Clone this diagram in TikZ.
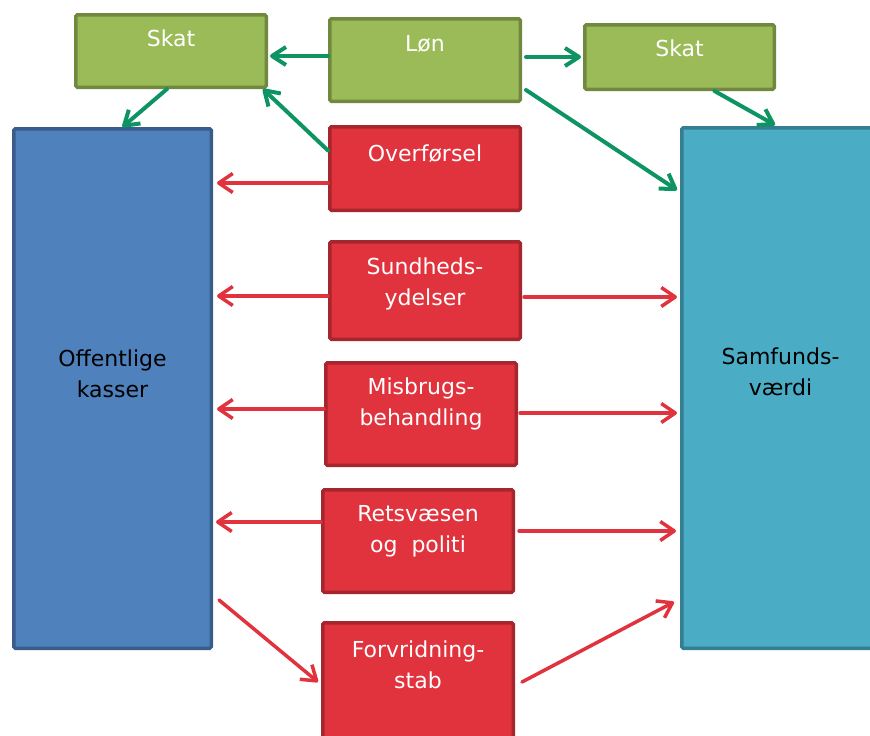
\documentclass[tikz,border=0pt]{standalone}
\usepackage{fontspec}
\setmainfont{DejaVu Sans}
\usetikzlibrary{arrows.meta, calc}
\definecolor{skatgreen}{RGB}{155,187,89}
\definecolor{skatborder}{RGB}{113,137,63}
\definecolor{kasseblue}{RGB}{79,129,189}
\definecolor{kasseborder}{RGB}{56,93,138}
\definecolor{vaerditeal}{RGB}{75,172,198}
\definecolor{vaerdiborder}{RGB}{53,125,145}
\definecolor{postred}{RGB}{225,51,61}
\definecolor{postborder}{RGB}{165,38,45}
\definecolor{flowgreen}{RGB}{14,148,98}
\definecolor{flowred}{RGB}{225,51,61}
\newcommand{\boxfont}{\fontsize{22}{31}\selectfont}
\tikzstyle{box} = [rectangle, line width=3.5pt, inner sep=0pt, rounded corners=1.5pt]
\tikzstyle{income} = [box, draw=skatborder, fill=skatgreen, minimum width=190.5pt]
\tikzstyle{expense} = [box, draw=postborder, fill=postred, minimum width=190.5pt]
\tikzstyle{kasse} = [box, draw=kasseborder, fill=kasseblue, minimum width=197.5pt, minimum height=519.5pt]
\tikzstyle{vaerdi} = [box, draw=vaerdiborder, fill=vaerditeal, minimum width=197.5pt, minimum height=520.5pt]
\tikzstyle{whitetext} = [anchor=north, inner sep=0pt, align=center, font=\boxfont, text=white]
\tikzstyle{blacktext} = [anchor=north, inner sep=0pt, align=center, font=\boxfont, text=black]
\tikzstyle{greenarrow} = [line width=4pt, draw=flowgreen, line cap=round, -{Straight Barb[length=14pt,width=18pt,line join=round]}]
\tikzstyle{redarrow} = [line width=3.5pt, draw=flowred, line cap=round, -{Straight Barb[length=14pt,width=19pt,line join=round]}]

\begin{document}
\begin{tikzpicture}[x=1pt, y=-1pt]
    \useasboundingbox (0,0) rectangle (870,736);
    \clip (0,0) rectangle (870,736);

    % green boxes
    \node (skatl) [income, minimum height=72.5pt, label={[whitetext, yshift=-17pt]north:Skat}] at (171,51) {};
    \node (lon) [income, minimum height=82.5pt, label={[whitetext, yshift=-18pt]north:Løn}] at (425,60) {};
    \node (skatr) [income, minimum width=189.5pt, minimum height=64.5pt, label={[whitetext, yshift=-17pt]north:Skat}] at (679.5,57) {};

    % big boxes
    \node (off) [kasse, label={[blacktext, yshift=-223pt]north:{Offentlige\\kasser}}] at (112.5,388.5) {};
    \node (samf) [vaerdi, label={[blacktext, yshift=-222pt]north:{Samfunds-\\værdi}}] at (780.5,388) {};

    % red boxes
    \node (over) [expense, minimum height=83.5pt, label={[whitetext, yshift=-20pt]north:Overførsel}] at (425,168.5) {};
    \node (sund) [expense, minimum height=97.5pt, label={[whitetext, yshift=-17.5pt]north:{Sundheds-\\ydelser}}] at (425,290.5) {};
    \node (misb) [expense, minimum height=102.5pt, label={[whitetext, yshift=-17pt]north:{Misbrugs-\\behandling}}] at (421,414) {};
    \node (rets) [expense, minimum height=102.5pt, label={[whitetext, yshift=-17pt]north:{Retsvæsen\\og\ \ politi}}] at (418,541) {};
    \node (forv) [expense, minimum height=135.5pt, label={[whitetext, yshift=-20pt]north:{Forvridning-\\stab}}] at (418,690.5) {};

    % green arrows
    \draw [greenarrow] ($(lon.west)+(0,-4)$) -- ($(skatl.east)+(2,5)$);
    \draw [greenarrow] ($(skatl.south)+(-4,0)$) -- ($(off.north)+(10,0)$);
    \draw [greenarrow] ($(over.west)+(0,-18)$) -- ($(skatl.south east)+(-5,0)$);
    \draw [greenarrow] ($(lon.east)+(4,-3)$) -- ($(skatr.west)+(-2,0)$);
    \draw [greenarrow] ($(lon.south east)+(4,-13)$) -- ($(samf.north west)+(-3,64)$);
    \draw [greenarrow] ($(skatr.south)+(35,0)$) -- ($(samf.north west)+(95,-1)$);

    % red arrows
    \draw [redarrow] ($(over.west)+(0,14.5)$) -- ($(off.east)+(4,-205.5)$);
    \draw [redarrow] ($(sund.west)+(0,5.5)$) -- ($(off.east)+(4,-92.5)$);
    \draw [redarrow] ($(sund.east)+(2,6.5)$) -- ($(samf.west)+(-3,-91)$);
    \draw [redarrow] ($(misb.west)+(0,-5)$) -- ($(off.east)+(4,20.5)$);
    \draw [redarrow] ($(misb.east)+(2,-1)$) -- ($(samf.west)+(-3,25)$);
    \draw [redarrow] ($(rets.west)+(0,-19)$) -- ($(off.east)+(3,133.5)$);
    \draw [redarrow] ($(rets.east)+(4,-10)$) -- ($(samf.west)+(-4,143)$);
    \draw [redarrow] ($(off.east)+(6,211.5)$) -- ($(forv.west)+(-3,-8.5)$);
    \draw [redarrow] ($(forv.east)+(7,-8.5)$) -- ($(samf.west)+(-6,214)$);

\end{tikzpicture}
\end{document}
